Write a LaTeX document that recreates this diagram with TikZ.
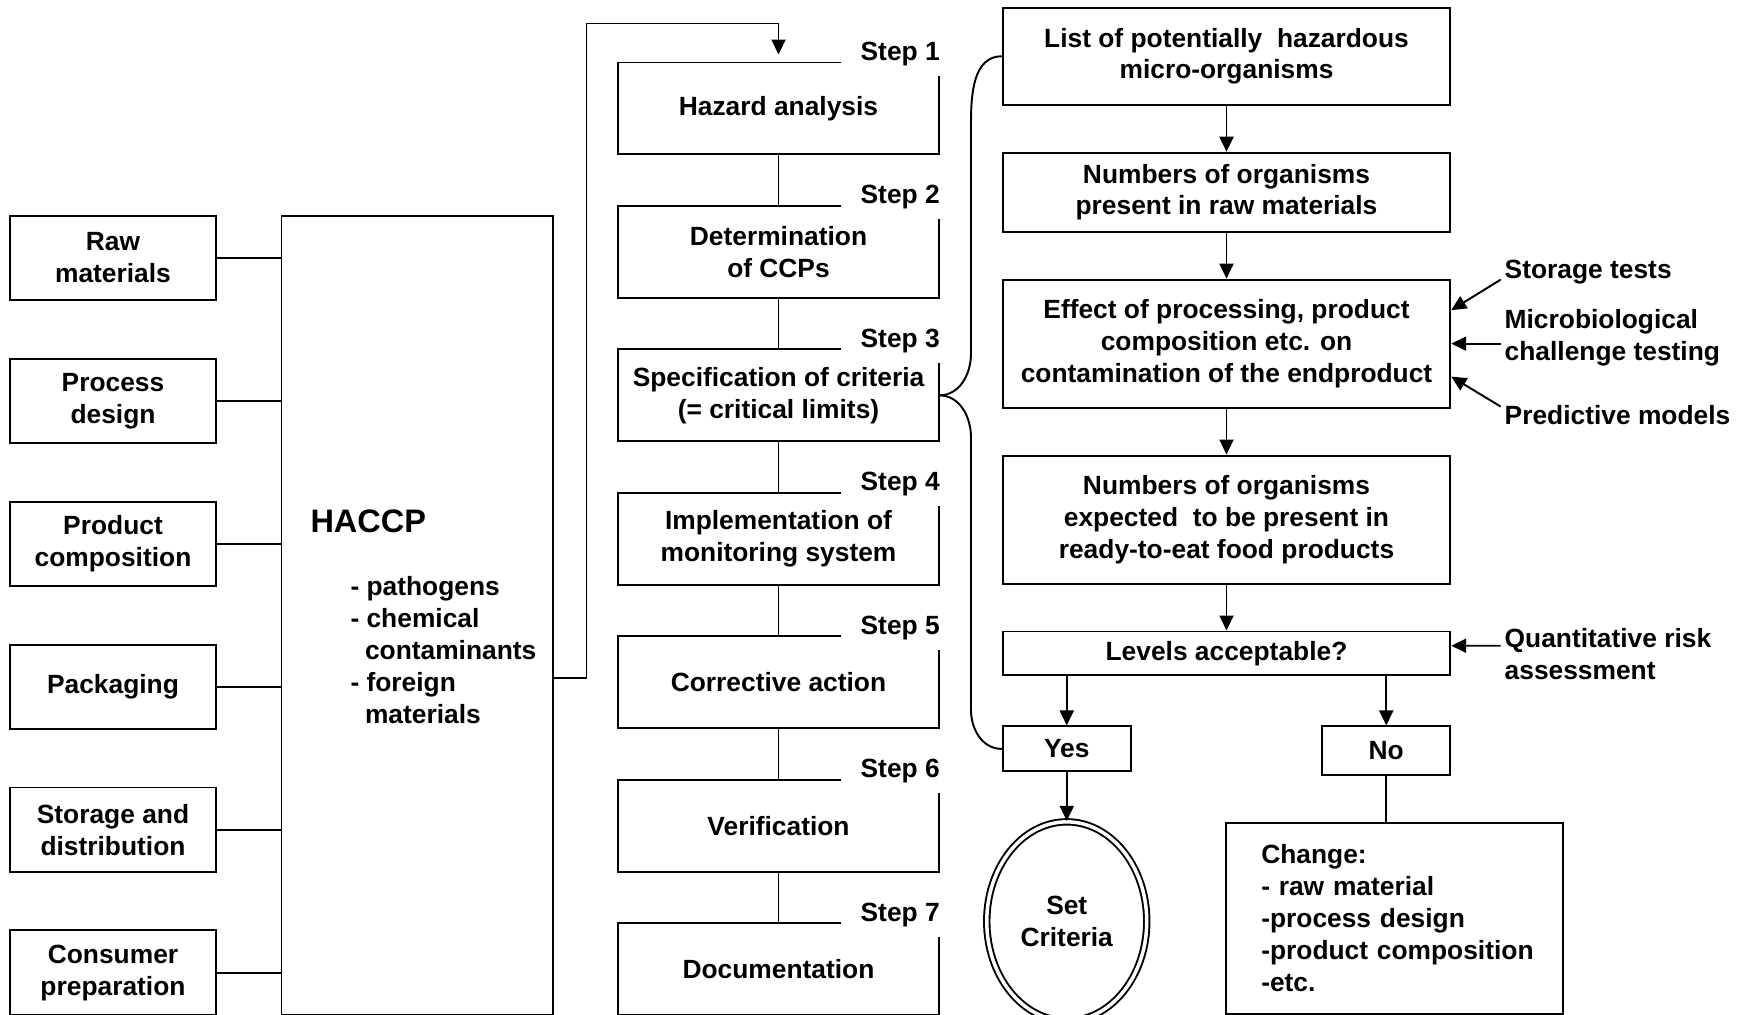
\documentclass[tikz,border=0pt]{standalone}
\usepackage{fontspec}
\setmainfont{Liberation Sans}
\usetikzlibrary{positioning, arrows.meta, shapes.geometric}

\begin{document}
\begin{tikzpicture}[
    font=\fontsize{15}{18.2}\selectfont\bfseries,
    line width=1.1pt,
    node distance=1.13cm,
    box/.style={
        rectangle,
        draw,
        align=center,
        minimum width=4.12cm,
        minimum height=1.69cm
    },
    stepbox/.style={
        rectangle,
        align=center,
        minimum width=6.39cm,
        minimum height=1.80cm
    },
    infobox/.style={
        rectangle,
        draw,
        align=center,
        minimum width=8.95cm
    },
    steplabel/.style={
        inner sep=0pt,
        anchor=east
    },
    note/.style={
        inner sep=0pt,
        anchor=west,
        align=left
    },
    arrow/.style={
        -{Triangle[width=0.28cm, length=0.3cm]}
    }
]
\useasboundingbox (0,0) rectangle (34.9,-20.3);

% Input nodes
\node[box] (raw) at (2.26,-5.16) {Raw\\materials};
\node[box, below=of raw] (process) {Process\\design};
\node[box, below=of process] (product) {Product\\composition};
\node[box, below=of product] (packaging) {Packaging};
\node[box, below=of packaging] (storage) {Storage and\\distribution};
\node[box, below=of storage] (consumer) {Consumer\\preparation};

% HACCP node
\node[box, minimum width=5.43cm, minimum height=15.98cm] (haccp) at (8.345,-12.31) {};
\node[anchor=west, inner sep=0pt, font=\fontsize{18.5}{22}\selectfont\bfseries]
    (haccptitle) at ([xshift=0.58cm, yshift=1.89cm]haccp.west) {HACCP};
\node[anchor=north west, inner sep=0pt, align=left] (hazards)
    at ([xshift=1.38cm, yshift=0.80cm]haccp.west) {
    - pathogens\\
    - chemical\\
    \hspace*{0.29cm}contaminants\\
    - foreign\\
    \hspace*{0.29cm}materials
};

% Step nodes
\node[stepbox] (s1) at (15.57,-2.17) {Hazard analysis};
\node[stepbox, below=1.03cm of s1] (s2) {Determination\\of CCPs};
\node[stepbox, below=1.03cm of s2] (s3) {Specification of criteria\\(= critical limits)};
\node[stepbox, below=1.03cm of s3] (s4) {Implementation of\\monitoring system};
\node[stepbox, below=1.03cm of s4] (s5) {Corrective action};
\node[stepbox, below=1.03cm of s5] (s6) {Verification};
\node[stepbox, below=1.03cm of s6] (s7) {Documentation};

\foreach \n in {1,...,7}{
    \draw ([xshift=4.47cm]s\n.north west) -- (s\n.north west) |- (s\n.south east)
        -- ([yshift=-0.27cm]s\n.north east);
    \node[steplabel] (lab\n) at ([xshift=0.03cm, yshift=0.17cm]s\n.north east) {Step \n};
}

% Criteria nodes
\node[infobox, minimum height=1.94cm] (hazlist) at (24.53,-1.125) {
    List of potentially\ \ hazardous\\
    micro-organisms
};
\node[infobox, minimum height=1.58cm, below=0.92cm of hazlist] (rawcount) {
    Numbers of organisms\\
    present in raw materials
};
\node[infobox, minimum height=2.56cm, below=0.92cm of rawcount] (effect) {
    Effect of processing, product\\
    composition etc. on\\
    contamination of the endproduct
};
\node[infobox, minimum height=2.56cm, below=0.92cm of effect] (expected) {
    Numbers of organisms\\
    expected\ \ to be present in\\
    ready-to-eat food products
};
\node[infobox, minimum height=0.87cm, below=0.92cm of expected] (levels) {Levels acceptable?};

\node[box, minimum width=2.56cm, minimum height=0.90cm,
    below right=0.99cm and 0cm of levels.south west] (yes) {Yes};
\node[box, minimum width=2.56cm, minimum height=0.98cm,
    below left=0.99cm and 0cm of levels.south east] (no) {No};

\node[ellipse, draw, double, double distance=0.07cm, align=center,
    minimum width=3.2cm, minimum height=3.98cm, below=0.97cm of yes] (setcrit) {Set\\Criteria};

\node[box, align=left, text width=5.33cm, inner xsep=0.7cm,
    minimum width=6.73cm, minimum height=3.81cm] (change) at (27.89,-18.37) {
    Change:\\
    - raw material\\
    -process design\\
    \mbox{-product composition}\\
    -etc.
};

% Side notes
\node[note] (storagetests) at ([xshift=1.05cm, yshift=1.44cm]effect.east) {Storage tests};
\node[note] (challenge) at ([xshift=1.05cm, yshift=0.11cm]effect.east) {Microbiological\\challenge testing};
\node[note] (predictive) at ([xshift=1.05cm, yshift=-1.43cm]effect.east) {Predictive models};
\node[note] (riskassess) at ([xshift=1.05cm, yshift=-0.02cm]levels.east) {Quantitative risk\\assessment};

% Arrows
\foreach \src in {raw, process, product, packaging, storage, consumer}
    \draw (\src.east) -- (\src.east -| haccp.west);

\coordinate (loop) at (11.73,-0.47);
\draw[arrow] ([yshift=-1.25cm]haccp.east) -| (loop) -| ([yshift=0.16cm]s1.north);

\foreach \a/\b in {1/2, 2/3, 3/4, 4/5, 5/6, 6/7}
    \draw (s\a.south) -- (s\b.north);

\foreach \a/\b in {hazlist/rawcount, rawcount/effect, effect/expected, expected/levels}
    \draw[arrow] (\a) -- (\b);

\draw (s3.east) to[out=0, in=-90] (19.42,-7.07) -- (19.42,-2.45) to[out=90, in=180] (hazlist.west);
\draw (s3.east) to[out=0, in=90] (19.42,-8.75) -- (19.42,-14.2) to[out=-90, in=180] (yes.west);

\draw[arrow] (levels.south -| yes) -- (yes);
\draw[arrow] (levels.south -| no) -- (no);
\draw[arrow] (yes) -- (setcrit);
\draw (no) -- (no |- change.north);

\draw[arrow] ([xshift=-0.06cm, yshift=-0.16cm]storagetests.west) -- ([yshift=0.67cm]effect.east);
\draw[arrow] ([xshift=-0.06cm, yshift=-0.11cm]challenge.west) -- (effect.east);
\draw[arrow] ([xshift=-0.06cm, yshift=0.17cm]predictive.west) -- ([yshift=-0.66cm]effect.east);
\draw[arrow] ([xshift=-0.06cm, yshift=0.17cm]riskassess.west) -- ([yshift=0.15cm]levels.east);

\end{tikzpicture}
\end{document}
